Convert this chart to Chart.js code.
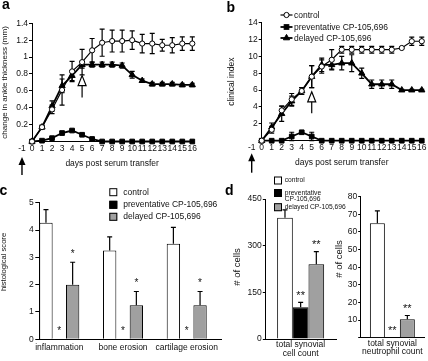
<!DOCTYPE html>
<html>
<head>
<meta charset="utf-8">
<script src="https://cdn.jsdelivr.net/npm/chart.js@4.4.1/dist/chart.umd.min.js"></script>
<style>
  html, body { margin: 0; padding: 0; background: #fff; }
  #fig { position: relative; width: 428px; height: 361px; overflow: hidden; background: #fff; }
  canvas { position: absolute; }
  .tag { position: absolute; font: bold 14px 'Liberation Sans', Arial, sans-serif; line-height: 14px; color: #000; }
  .krow { position: absolute; height: 10px; font: 8.5px 'Liberation Sans', Arial, sans-serif; line-height: 10px; color: #111; white-space: nowrap; }
  .krow svg { position: absolute; left: 0; top: 0; }
  .krow span { position: absolute; left: 14px; top: 0; }
</style>
</head>
<body>
<div id="fig">
  <canvas id="chartA" width="214" height="180" style="left:0;top:0"></canvas>
  <canvas id="chartB" width="214" height="180" style="left:214px;top:0"></canvas>
  <canvas id="chartC" width="230" height="181" style="left:0;top:180px"></canvas>
  <canvas id="chartD1" width="136" height="196" style="left:214px;top:165px"></canvas>
  <canvas id="chartD2" width="98" height="181" style="left:330px;top:180px"></canvas>
  <div id="keyB"></div>
  <div class="tag" style="left:2px;top:-3.5px">a</div>
  <div class="tag" style="left:226.5px;top:0">b</div>
  <div class="tag" style="left:-0.5px;top:183px">c</div>
  <div class="tag" style="left:225px;top:183px">d</div>
</div>
<script>
// Data
const days = [0, 1, 2, 3, 4, 5, 6, 7, 8, 9, 10, 11, 12, 13, 14, 15, 16];
const dayTicks = [-1, 0, 1, 2, 3, 4, 5, 6, 7, 8, 9, 10, 11, 12, 13, 14, 15, 16];
const seriesNames = ['control', 'preventative CP-105,696', 'delayed CP-105,696'];

// a: change in ankle thickness (mm)
const ankleTicks = [0, 0.2, 0.4, 0.6, 0.8, 1, 1.2, 1.4];
const ankleControl = [0, 0.17, 0.38, 0.61, 0.83, 0.94, 1.08, 1.17, 1.19, 1.19, 1.2, 1.16, 1.16, 1.14, 1.14, 1.16, 1.16];
const ankleControlErr = [0, 0.02, 0.05, 0.18, 0.12, 0.15, 0.14, 0.16, 0.13, 0.13, 0.11, 0.11, 0.12, 0.07, 0.09, 0.08, 0.08];
const anklePrevent = [0, 0.01, 0.04, 0.1, 0.13, 0.08, 0.03, 0, 0, 0, 0, 0, 0, 0, 0, 0, 0];
const anklePreventErr = [0, 0, 0.01, 0.02, 0.01, 0.01, 0.01, 0, 0, 0, 0, 0, 0, 0, 0, 0, 0];
const ankleDelayed = [0, 0.17, 0.42, 0.66, 0.78, 0.91, 0.91, 0.91, 0.91, 0.9, 0.79, 0.72, 0.68, 0.68, 0.68, 0.67, 0.67];
const ankleDelayedErr = [0, 0.02, 0.06, 0.08, 0.06, 0.04, 0.03, 0.03, 0.03, 0.03, 0.04, 0.02, 0.02, 0.02, 0.02, 0.02, 0.02];

// b: clinical index
const clinTicks = [0, 2, 4, 6, 8, 10, 12, 14];
const clinControl = [0, 1.3, 3.6, 4.9, 5.9, 7.6, 8.8, 9.6, 10.8, 10.8, 10.8, 10.8, 10.8, 10.8, 11.0, 11.8, 11.8];
const clinControlErr = [0, 0.4, 0.5, 0.7, 0.4, 1.3, 0.8, 1.2, 0.4, 0.4, 0.4, 0.4, 0.4, 0.4, 0, 0.5, 0.5];
const clinPrevent = [0, 0, 0, 0.5, 1.0, 0.5, 0, 0, 0, 0, 0, 0, 0, 0, 0, 0, 0];
const clinPreventErr = [0, 0, 0, 0.5, 0.15, 0.5, 0, 0, 0, 0, 0, 0, 0, 0, 0, 0, 0];
const clinDelayed = [0, 1.6, 3.2, 4.7, 5.9, 7.6, 9.0, 9.0, 9.2, 9.2, 8.0, 6.7, 6.7, 6.7, 6.0, 6.0, 6.0];
const clinDelayedErr = [0, 0.5, 0.9, 0.6, 0.4, 1.3, 0.8, 0.5, 0.8, 1.0, 0.6, 0.5, 0.5, 0.5, 0.1, 0.1, 0.1];

// c: histological score
const histoCategories = ['inflammation', 'bone erosion', 'cartilage erosion'];
const histoPos = [0, 1, 2];
const histoTicks = [0, 1, 2, 3, 4, 5];
const histoControl = [4.27, 3.25, 3.5];
const histoControlErr = [0.48, 0.5, 0.6];
const histoPrevent = [0, 0, 0];
const histoDelayed = [2.0, 1.25, 1.25];
const histoDelayedErr = [0.82, 0.5, 0.5];
const histoStars = ['*', '*', '*'];

// d: synovial cell counts
const cellCategory = [['total synovial', 'cell count']];
const cellTicks = [0, 150, 300, 450];
const cellControl = [390];
const cellControlErr = [25];
const cellPrevent = [102];
const cellPreventErr = [16];
const cellDelayed = [240];
const cellDelayedErr = [41];
const neutroCategory = [['total synovial', 'neutrophil count']];
const neutroTicks = [0, 10, 20, 30, 40, 50, 60, 70, 80];
const neutroControl = [65];
const neutroControlErr = [7];
const neutroPrevent = [0];
const neutroDelayed = [10.5];
const neutroDelayedErr = [2.1];
const countStars = ['**'];
const dKeyLines = [['control'], ['preventative', 'CP-105,696'], ['delayed CP-105,696']];

const fontFamily = "'Liberation Sans', Arial, Helvetica, sans-serif";
Chart.defaults.font.family = fontFamily;
Chart.defaults.font.size = 8.5;
Chart.defaults.color = '#111';
Chart.defaults.animation = false;
Chart.defaults.responsive = false;
Chart.defaults.events = [];
Chart.defaults.plugins.legend.display = false;
Chart.defaults.plugins.tooltip.enabled = false;

// Error bars (and significance stars) from the dataset elements
const errorBars = {
    id: 'errorBars',
    beforeDatasetsDraw(chart, args, o) {
        if (!o.errors) return;
        const ctx = chart.ctx, y = chart.scales.y;
        ctx.save();
        ctx.strokeStyle = '#000';
        ctx.lineWidth = 1.2;
        o.errors.forEach((errs, i) => {
            if (!errs) return;
            const data = chart.data.datasets[i].data;
            chart.getDatasetMeta(i).data.forEach((el, j) => {
                const e = errs[j];
                if (!e) return;
                const v = typeof data[j] === 'object' ? data[j].y : data[j];
                const top = y.getPixelForValue(v + e);
                const bot = o.upOnly ? el.y : y.getPixelForValue(v - e);
                const c = o.cap / 2;
                ctx.beginPath();
                ctx.moveTo(el.x, bot); ctx.lineTo(el.x, top);
                ctx.moveTo(el.x - c, top); ctx.lineTo(el.x + c, top);
                if (!o.upOnly) { ctx.moveTo(el.x - c, bot); ctx.lineTo(el.x + c, bot); }
                ctx.stroke();
            });
        });
        ctx.restore();
    },
    afterDatasetsDraw(chart, args, o) {
        if (!o.stars) return;
        const ctx = chart.ctx, y = chart.scales.y;
        ctx.save();
        ctx.fillStyle = '#111';
        ctx.font = o.starSize + 'px ' + fontFamily;
        ctx.textAlign = 'center';
        ctx.textBaseline = 'alphabetic';
        o.stars.forEach((marks, i) => {
            if (!marks) return;
            const data = chart.data.datasets[i].data;
            const errs = (o.errors && o.errors[i]) || [];
            chart.getDatasetMeta(i).data.forEach((el, j) => {
                if (!marks[j]) return;
                const v = typeof data[j] === 'object' ? data[j].y : data[j];
                const e = errs[j] || 0;
                ctx.fillText(marks[j], el.x, y.getPixelForValue(v + e) - o.starGap);
            });
        });
        ctx.restore();
    }
};

// open arrow (delayed treatment) and solid arrow (preventative treatment)
const arrows = {
    id: 'arrows',
    afterDraw(chart, args, o) {
        if (o.openDay === undefined) return;
        const {ctx, scales: {x, y}} = chart;
        ctx.save();
        ctx.strokeStyle = '#000';
        ctx.lineWidth = 1.2;
        const ax = x.getPixelForValue(o.openDay);
        const tip = y.getPixelForValue(o.openTip), tail = y.getPixelForValue(o.openTail);
        ctx.beginPath();
        ctx.moveTo(ax, tip + 10); ctx.lineTo(ax, tail);
        ctx.stroke();
        ctx.beginPath();
        ctx.moveTo(ax, tip); ctx.lineTo(ax + 4, tip + 10); ctx.lineTo(ax - 4, tip + 10); ctx.closePath();
        ctx.fillStyle = '#fff'; ctx.fill(); ctx.stroke();
        const sx = x.getPixelForValue(o.solidDay);
        const sTip = y.bottom + o.solidTip, sTail = y.bottom + o.solidTail;
        ctx.lineWidth = 1.4;
        ctx.beginPath();
        ctx.moveTo(sx, sTip + 6); ctx.lineTo(sx, sTail);
        ctx.stroke();
        ctx.beginPath();
        ctx.moveTo(sx, sTip); ctx.lineTo(sx + 3.5, sTip + 8); ctx.lineTo(sx - 3.5, sTip + 8); ctx.closePath();
        ctx.fillStyle = '#000'; ctx.fill();
        ctx.restore();
    }
};

Chart.register(errorBars, arrows);

// rotated y axis title (bar panels only)
const yTitle = {
    id: 'yTitle',
    afterDraw(chart, args, o) {
        if (!o.text) return;
        const ctx = chart.ctx;
        ctx.save();
        ctx.translate(o.x, o.y);
        ctx.rotate(-Math.PI / 2);
        ctx.font = o.size + 'px ' + fontFamily;
        ctx.fillStyle = '#111';
        ctx.textAlign = 'center';
        ctx.textBaseline = 'middle';
        ctx.fillText(o.text, 0, 0);
        ctx.restore();
    }
};

// box legend for the bar panels, drawn from the datasets
const boxKey = {
    id: 'boxKey',
    afterDraw(chart, args, o) {
        if (!o.ys) return;
        const ctx = chart.ctx;
        ctx.save();
        ctx.textBaseline = 'middle';
        ctx.textAlign = 'left';
        chart.data.datasets.forEach((ds, i) => {
            const y = o.ys[i];
            ctx.strokeStyle = '#000';
            ctx.lineWidth = 1;
            ctx.fillStyle = ds.backgroundColor;
            ctx.fillRect(o.x, y - o.box / 2, o.box, o.box);
            ctx.strokeRect(o.x + 0.5, y - o.box / 2 + 0.5, o.box - 1, o.box - 1);
            ctx.font = o.size + 'px ' + fontFamily;
            ctx.fillStyle = '#111';
            o.lines[i].forEach((t, j) => ctx.fillText(t, o.textX, y + j * (o.lh || 0)));
        });
        ctx.restore();
    }
};

function useTicks(values) {
    return scale => { scale.ticks = values.map(v => ({ value: v })); };
}

const lineStyles = [
    { pointStyle: 'circle', pointRadius: 2.6, pointBackgroundColor: '#fff', borderWidth: 1.2 },
    { pointStyle: 'rect', pointRadius: 3.3, pointBackgroundColor: '#000', borderWidth: 1.8 },
    { pointStyle: 'triangle', pointRadius: 3.6, pointBackgroundColor: '#000', borderWidth: 1.8 }
];

function lineSet(i, values) {
    return Object.assign({
        label: seriesNames[i],
        data: days.map((d, k) => ({ x: d, y: values[k] })),
        borderColor: '#000', pointBorderColor: '#000', pointBorderWidth: 1,
        tension: 0, fill: false, clip: false
    }, lineStyles[i]);
}

const barFills = ['#fff', '#000', '#a0a0a0'];
function barSet(i, values, xs) {
    return {
        label: seriesNames[i],
        data: xs ? values.map((v, k) => ({ x: xs[k], y: v })) : values,
        backgroundColor: barFills[i], borderColor: '#000', borderWidth: 1
    };
}

// Time course panels (a, b): axis runs from day 0, the -1 tick sits left of it
function timeCourse(id, cfg) {
    return new Chart(document.getElementById(id), {
        type: 'line',
        data: { datasets: [lineSet(0, cfg.control), lineSet(1, cfg.prevent), lineSet(2, cfg.delayed)] },
        options: {
            devicePixelRatio: 1,
            layout: { padding: cfg.pad },
            scales: {
                x: {
                    type: 'linear', min: 0, max: days[days.length - 1],
                    afterBuildTicks: useTicks(dayTicks),
                    afterFit: s => { s.height = cfg.xHeight; },
                    ticks: { autoSkip: false, maxRotation: 0, minRotation: 0, padding: cfg.tickPad },
                    grid: { display: false, drawTicks: false },
                    border: { color: '#000' },
                    title: { display: true, text: 'days post serum transfer', padding: { top: 0, bottom: cfg.titlePad } }
                },
                y: {
                    type: 'linear', position: 'left',
                    min: 0, max: cfg.yTicks[cfg.yTicks.length - 1],
                    afterBuildTicks: useTicks(cfg.yTicks),
                    afterFit: s => { s.width = cfg.yWidth; },
                    ticks: { padding: 1, callback: cfg.fmt },
                    grid: { drawOnChartArea: false, tickLength: 3, color: '#000' },
                    border: { color: '#000' },
                    title: { display: true, text: cfg.yTitle, font: { size: cfg.yTitleSize }, padding: { top: cfg.yTitlePad, bottom: 0 } }
                }
            },
            plugins: {
                errorBars: { errors: [cfg.controlErr, cfg.preventErr, cfg.delayedErr], cap: 5 },
                arrows: cfg.arrows
            }
        }
    });
}

timeCourse('chartA', {
    control: ankleControl, controlErr: ankleControlErr,
    prevent: anklePrevent, preventErr: anklePreventErr,
    delayed: ankleDelayed, delayedErr: ankleDelayedErr,
    yTicks: ankleTicks,
    fmt: v => (v === 0 ? '' : String(+v.toFixed(1))),
    pad: { left: 0, right: 21.7, top: 23.3, bottom: 0 },
    yWidth: 32, xHeight: 38.5, tickPad: 2, titlePad: 10.9,
    yTitle: 'change in ankle thickness (mm)', yTitleSize: 8, yTitlePad: 0,
    arrows: { openDay: 5, openTip: 0.78, openTail: 0.52, solidDay: -1, solidTip: 15.5, solidTail: 33.5 }
});

const chartB = timeCourse('chartB', {
    control: clinControl, controlErr: clinControlErr,
    prevent: clinPrevent, preventErr: clinPreventErr,
    delayed: clinDelayed, delayedErr: clinDelayedErr,
    yTicks: clinTicks,
    fmt: v => (v === 0 ? '' : String(v)),
    pad: { left: 0, right: 5.7, top: 22.7, bottom: 0 },
    yWidth: 47.7, xHeight: 39.3, tickPad: 1.5, titlePad: 11.9,
    yTitle: 'clinical index', yTitleSize: 8.5, yTitlePad: 12.9,
    arrows: { openDay: 5, openTip: 5.8, openTail: 3.25, solidDay: -1, solidTip: 12.5, solidTail: 32 }
});

// legend of panel b, built from the chart's datasets
(function buildKeyB() {
    const rowsY = [15, 26.7, 37.7];
    const holder = document.getElementById('keyB');
    chartB.data.datasets.forEach((ds, i) => {
        const r = ds.pointRadius;
        let mark;
        if (ds.pointStyle === 'rect') {
            const s = r * Math.SQRT1_2;
            mark = `<rect x="${6.5 - s}" y="${5 - s}" width="${2 * s}" height="${2 * s}" fill="${ds.pointBackgroundColor}" stroke="#000" stroke-width="1"/>`;
        } else if (ds.pointStyle === 'triangle') {
            mark = `<polygon points="6.5,${5 - r} ${6.5 + r * 0.866},${5 + r / 2} ${6.5 - r * 0.866},${5 + r / 2}" fill="${ds.pointBackgroundColor}" stroke="#000" stroke-width="1"/>`;
        } else {
            mark = `<circle cx="6.5" cy="5" r="${r}" fill="${ds.pointBackgroundColor}" stroke="#000" stroke-width="1"/>`;
        }
        const row = document.createElement('div');
        row.className = 'krow';
        row.style.left = (214 + 66) + 'px';
        row.style.top = (rowsY[i] - 5) + 'px';
        row.innerHTML = `<svg width="13" height="10"><line x1="0.5" y1="5" x2="12.5" y2="5" stroke="#000" stroke-width="${ds.borderWidth}"/>${mark}</svg><span>${ds.label}</span>`;
        holder.appendChild(row);
    });
})();

// c: histology bars
new Chart(document.getElementById('chartC'), {
    type: 'bar',
    data: { datasets: [barSet(0, histoControl, histoPos), barSet(1, histoPrevent, histoPos), barSet(2, histoDelayed, histoPos)] },
    plugins: [yTitle, boxKey],
    options: {
        devicePixelRatio: 1,
        layout: { padding: { left: 0, right: 9, top: 22.7, bottom: 0 } },
        datasets: { bar: { categoryPercentage: 0.628, barPercentage: 1 } },
        scales: {
            x: {
                type: 'linear', offset: false, min: -0.314, max: 2.538,
                afterBuildTicks: useTicks(histoPos),
                afterFit: s => { s.height = 21.7; },
                ticks: { autoSkip: false, maxRotation: 0, minRotation: 0, padding: 3.5, callback: v => histoCategories[v] },
                grid: { display: false, drawTicks: false },
                border: { color: '#000' }
            },
            y: {
                min: 0, max: 5,
                afterBuildTicks: useTicks(histoTicks),
                afterFit: s => { s.width = 39.3; },
                ticks: { padding: 1.5 },
                grid: { drawOnChartArea: false, tickLength: 4, color: '#000' },
                border: { color: '#000' }
            }
        },
        plugins: {
            errorBars: { errors: [histoControlErr, null, histoDelayedErr], cap: 5, upOnly: true, stars: [null, histoStars, histoStars], starGap: 5, starSize: 10 },
            yTitle: { text: 'histological score', x: 4, y: 82, size: 7.6 },
            boxKey: { x: 109.3, box: 8, ys: [12.2, 24.8, 36.8], textX: 123.3, size: 8.5, lines: seriesNames.map(s => [s]) }
        }
    }
});

// d: cell counts (two small bar charts)
function countChart(id, cfg) {
    return new Chart(document.getElementById(id), {
        type: 'bar',
        data: {
            labels: cfg.labels,
            datasets: [barSet(0, cfg.control), barSet(1, cfg.prevent), barSet(2, cfg.delayed)]
        },
        plugins: [yTitle, boxKey],
        options: {
            devicePixelRatio: 1,
            layout: { padding: cfg.pad },
            datasets: { bar: { categoryPercentage: cfg.catPct, barPercentage: 1 } },
            scales: {
                x: {
                    afterFit: s => { s.height = cfg.xHeight; },
                    ticks: { autoSkip: false, maxRotation: 0, minRotation: 0, padding: 1.5, font: { lineHeight: 1 } },
                    grid: { display: false, drawTicks: false },
                    border: { color: '#000' }
                },
                y: {
                    min: 0, max: cfg.yTicks[cfg.yTicks.length - 1],
                    afterBuildTicks: useTicks(cfg.yTicks),
                    afterFit: s => { s.width = cfg.yWidth; },
                    ticks: { padding: 1, callback: cfg.fmt },
                    grid: { drawOnChartArea: false, tickLength: 2.5, color: '#000' },
                    border: { color: '#000' }
                }
            },
            plugins: {
                errorBars: { errors: [cfg.controlErr, cfg.preventErr, cfg.delayedErr], cap: 5, upOnly: true, stars: [null, countStars, countStars], starGap: 3.5, starSize: 11 },
                yTitle: cfg.yTitle,
                boxKey: cfg.key || {}
            }
        }
    });
}

countChart('chartD1', {
    labels: cellCategory,
    control: cellControl, controlErr: cellControlErr,
    prevent: cellPrevent, preventErr: cellPreventErr,
    delayed: cellDelayed, delayedErr: cellDelayedErr,
    yTicks: cellTicks, fmt: v => String(v),
    pad: { left: 0, right: 14, top: 34, bottom: 0 },
    catPct: 0.665, xHeight: 22, yWidth: 51.3,
    yTitle: { text: '# of cells', x: 23.3, y: 102, size: 9.5 },
    key: { x: 60, box: 8, ys: [15.5, 28, 42.2], textX: 70.7, size: 6.7, lh: 6.5, lines: dKeyLines }
});

countChart('chartD2', {
    labels: neutroCategory,
    control: neutroControl, controlErr: neutroControlErr,
    prevent: neutroPrevent, preventErr: null,
    delayed: neutroDelayed, delayedErr: neutroDelayedErr,
    yTicks: neutroTicks, fmt: v => (v === 0 ? '' : String(v)),
    pad: { left: 0, right: 4, top: 16.7, bottom: 0 },
    catPct: 0.71, xHeight: 23.3, yWidth: 30.7,
    yTitle: { text: '# of cells', x: 9, y: 79, size: 9.5 }
});
</script>
</body>
</html>
